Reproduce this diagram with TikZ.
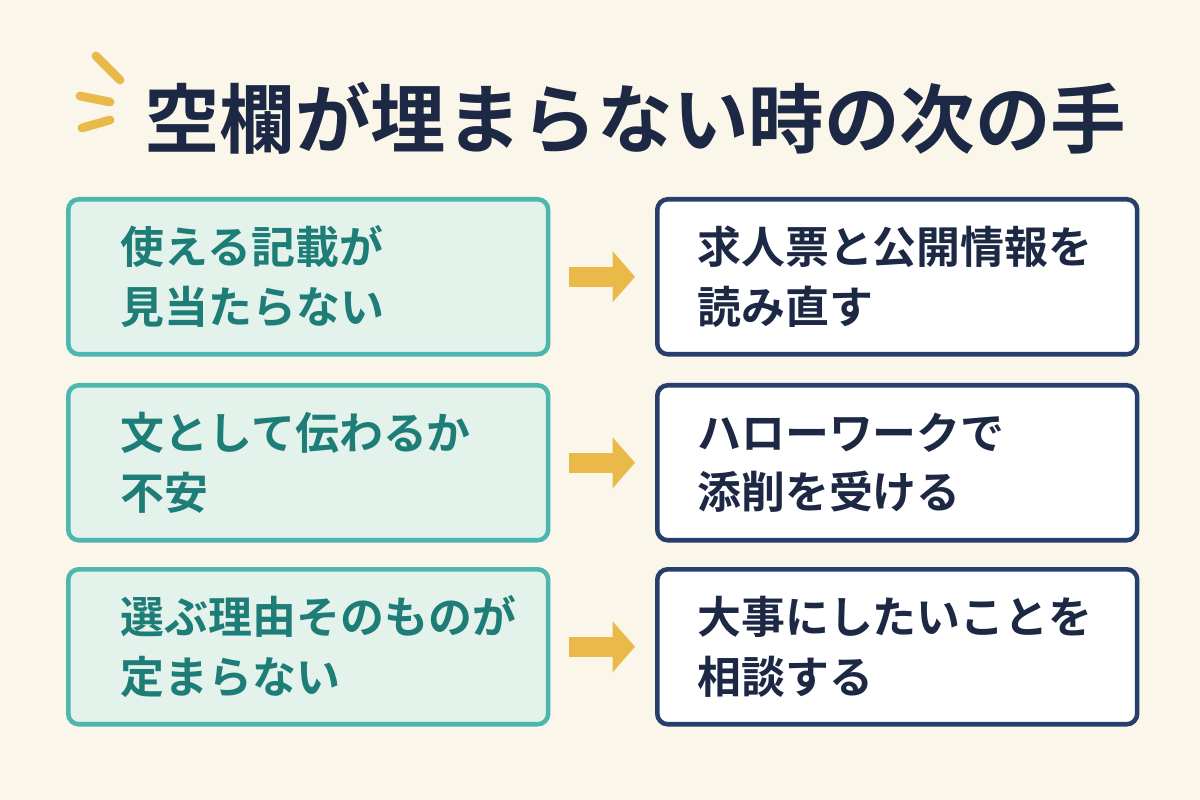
\documentclass[tikz,border=0pt]{standalone}
\usepackage{fontspec}
\setmainfont{Noto Sans CJK JP Bold}
\usetikzlibrary{arrows.meta}
\definecolor{bgcol}{HTML}{FAF6E9}
\definecolor{tealline}{HTML}{4DB6AF}
\definecolor{tealfill}{HTML}{E4F2EC}
\definecolor{tealtext}{HTML}{1F7D78}
\definecolor{navyline}{HTML}{273F6D}
\definecolor{navytext}{HTML}{1D2944}
\definecolor{accent}{HTML}{E9B949}
\tikzset{
  prob/.style={draw=tealline, fill=tealfill, line width=2.6pt, rounded corners=6pt,
    minimum width=9.6cm, minimum height=3.1cm, anchor=north west,
    text=tealtext, font=\fontsize{25}{34}\selectfont, align=left,
    text width=7.5cm, inner sep=0pt},
  fix/.style={prob, draw=navyline, fill=white, text=navytext, text width=8.0cm},
  nextarrow/.style={draw=accent, line width=0.4cm, -{Triangle[length=0.45cm,width=1.0cm]},
    shorten <=0.38cm, shorten >=0.4cm},
}
\begin{document}
\begin{tikzpicture}[x=0.02cm,y=-0.02cm]
  \fill[bgcol] (0,0) rectangle (1200,800);
  % title
  \node[anchor=west, text=navytext, font=\fontsize{43}{46}\selectfont] (title) at (138,118) {空欄が埋まらない時の次の手};
  \draw[accent, line width=5pt, line cap=round] (96,56) -- (120,80);
  \draw[accent, line width=5pt, line cap=round] (80,96) -- (110,102);
  \draw[accent, line width=5pt, line cap=round] (82,128) -- (110,120);
  % boxes
  \node[prob] (p1) at (66,197) {使える記載が\\見当たらない};
  \node[prob] (p2) at (66,383) {文として伝わるか\\不安};
  \node[prob] (p3) at (66,567) {選ぶ理由そのものが\\定まらない};
  \node[fix] (f1) at (655,197) {求人票と公開情報を\\読み直す};
  \node[fix] (f2) at (655,383) {ハローワークで\\添削を受ける};
  \node[fix] (f3) at (655,567) {大事にしたいことを\\相談する};
  \foreach \i in {1,2,3}
    \draw[nextarrow] (p\i.east) -- (f\i.west);
\end{tikzpicture}
\end{document}
